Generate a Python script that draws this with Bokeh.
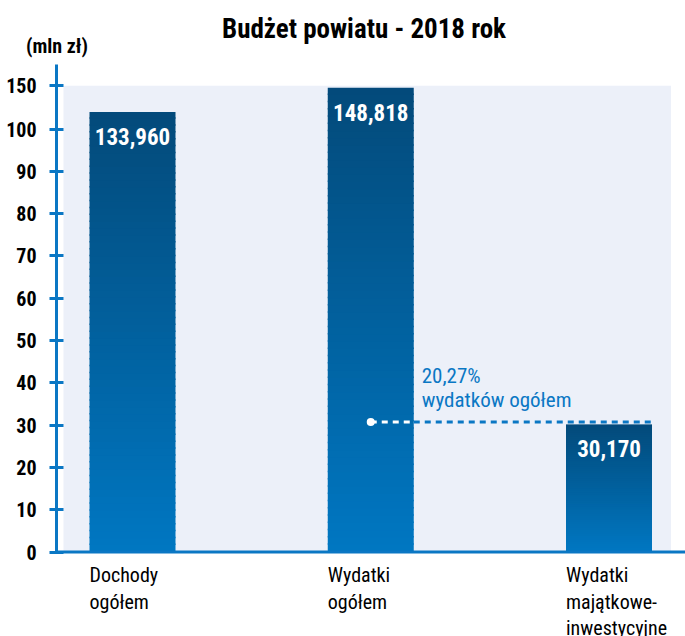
import numpy as np
from bokeh.plotting import figure
from bokeh.layouts import column
from bokeh.models import ColumnDataSource, FixedTicker, Range1d, Span, Div
from bokeh.embed import file_html
from bokeh.resources import INLINE
from bokeh.core.properties import value

# ---------------- data ----------------
title_text = "Budżet powiatu - 2018 rok"
unit_label = "(mln zł)"
categories = ["Dochody\nogółem", "Wydatki\nogółem", "Wydatki\nmajątkowe-\ninwestycyjne"]
values = [133.960, 148.818, 30.170]
y_ticks = [0, 10, 20, 30, 40, 50, 60, 70, 80, 90, 100, 150]
share_caption = "wydatków ogółem"

# broken (compressed) scale above 100
brk_data = [0, 100, 130, 150]
brk_disp = [0, 100, 102.5, 110.2]


def disp(v):
    return float(np.interp(v, brk_data, brk_disp))


# ---------------- styling ----------------
FONT = "'Roboto Condensed', 'Liberation Sans Narrow', Roboto, sans-serif"
BLUE = "#0A77C4"
PANEL = "#ECF0F9"
TOP_C = np.array([3, 74, 122])
BOT_C = np.array([0, 119, 194])

W = 685
HEAD_H = 64
MAIN_H = 572
LEFT = 56
frame_w = W - LEFT
SY = 4.23                      # px per display unit
ZERO_PX = 551.5 - HEAD_H       # zero line, px below the top of the chart
Y1 = ZERO_PX / SY
Y0 = -(MAIN_H - ZERO_PX) / SY
SX = 238.25                    # px per category step
X0 = (LEFT - 132) / SX
X1 = X0 + frame_w / SX
PX_X = 1.0 / SX
PX_Y = 1.0 / SY
bar_w = 86 * PX_X

# ---------------- header (title + unit) ----------------
head_html = (
    f'<div style="position:relative;width:{W}px;height:{HEAD_H}px;">'
    f'<span style="position:absolute;left:364px;top:16px;transform:translateX(-50%);'
    f'font:bold 27px {FONT};line-height:1;white-space:nowrap;color:#000;">{title_text}</span>'
    f'<span style="position:absolute;left:57px;top:36px;transform:translateX(-50%);'
    f'font:bold 20px {FONT};line-height:1;white-space:nowrap;color:#000;">{unit_label}</span>'
    '</div>'
)
head = Div(text=head_html, width=W, height=HEAD_H, margin=0)

# ---------------- main chart ----------------
p = figure(width=W, height=MAIN_H, output_backend="svg", toolbar_location=None,
           x_range=Range1d(X0, X1), y_range=Range1d(Y0, Y1),
           x_axis_location=None,
           min_border_left=LEFT, min_border_right=0, min_border_top=0,
           min_border_bottom=0)
p.grid.visible = False
p.outline_line_color = None
p.background_fill_color = "white"
p.border_fill_color = "white"

# background panel
p.quad(left=[X0 + 7 * PX_X], right=[X1 - 14.5 * PX_X], bottom=[0], top=[disp(150)],
       fill_color=PANEL, line_color=None)

# gradient bars built from values (overlapping slices, no seams)
N = 64
bx, bb, bt, bc = [], [], [], []
for i, v in enumerate(values):
    T = disp(v)
    for k in range(N):
        t = (k + 0.5) / N
        c = BOT_C + (TOP_C - BOT_C) * t
        bx.append(i)
        bb.append(T * k / N)
        bt.append(min(T, T * (k + 1) / N + 1.5 * PX_Y))
        bc.append("#%02x%02x%02x" % tuple(int(round(x)) for x in c))
src = ColumnDataSource(dict(x=bx, bottom=bb, top=bt, color=bc))
p.vbar(x="x", bottom="bottom", top="top", width=bar_w, fill_color="color",
       line_color=None, source=src)

# baseline (x axis line)
p.add_layout(Span(location=0, dimension="width", line_color=BLUE, line_width=3))

# value labels
val_src = ColumnDataSource(dict(
    x=list(range(len(values))),
    y=[disp(v) for v in values],
    txt=[f"{v:.3f}".replace(".", ",") for v in values]))
p.text(x="x", y="y", text="txt", source=val_src, text_color="white",
       text_font=value(FONT), text_font_style="bold", text_font_size="23px",
       text_align="center", text_baseline="top", y_offset=16)

# dashed connector: share of investment expenses in total expenses
share = values[2] / values[1] * 100
y_line = disp(values[2]) + 2.3 * PX_Y
p.segment(x0=[1], x1=[1 + bar_w / 2], y0=[y_line], y1=[y_line],
          line_color="white", line_width=3, line_dash="6 5")
p.segment(x0=[1 + bar_w / 2], x1=[2 + bar_w / 2], y0=[y_line], y1=[y_line],
          line_color=BLUE, line_width=3, line_dash="6 5")
p.scatter(x=[1], y=[y_line], size=8, fill_color="white", line_color=None)

ann_x = 1 + bar_w / 2 + 8 * PX_X
ann_src = ColumnDataSource(dict(x=[ann_x, ann_x], y=[y_line, y_line],
                                txt=[f"{share:.2f}%".replace(".", ","), share_caption],
                                off=[-46, -22]))
p.text(x="x", y="y", text="txt", y_offset="off", source=ann_src,
       text_color=BLUE, text_font=value(FONT), text_font_size="21px",
       text_align="left", text_baseline="alphabetic")

# category labels, left aligned at each bar's left edge
cx, cy, ct, co = [], [], [], []
for i, cat in enumerate(categories):
    for k, line in enumerate(cat.split("\n")):
        cx.append(i - bar_w / 2)
        cy.append(0)
        ct.append(line)
        co.append(11 + 26.5 * k)
cat_src = ColumnDataSource(dict(x=cx, y=cy, txt=ct, off=co))
p.text(x="x", y="y", text="txt", y_offset="off", source=cat_src,
       text_color="black", text_font=value(FONT), text_font_size="20px",
       text_align="left", text_baseline="top")

# y axis
yax = p.yaxis[0]
yax.bounds = (0, Y1)
yax.ticker = FixedTicker(ticks=[disp(t) for t in y_ticks])
yax.major_label_overrides = {disp(t): str(t) for t in y_ticks}
yax.axis_line_color = BLUE
yax.axis_line_width = 3
yax.major_tick_line_color = BLUE
yax.major_tick_line_width = 3
yax.major_tick_in = 7
yax.major_tick_out = 7
yax.minor_tick_line_color = None
yax.major_label_standoff = 13
yax.major_label_text_font = FONT
yax.major_label_text_font_style = "bold"
yax.major_label_text_font_size = "20px"
yax.major_label_text_color = "black"

layout = column(head, p, spacing=0)
open("out.html", "w").write(file_html(layout, INLINE))
